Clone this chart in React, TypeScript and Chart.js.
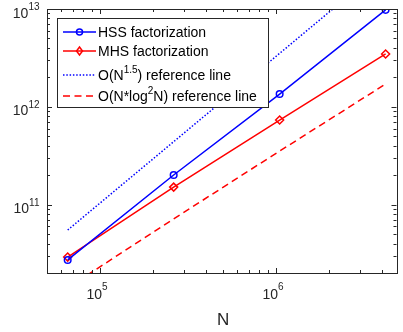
import React, { useEffect, useRef } from "react";
import { Chart, registerables } from "chart.js";

Chart.register(...registerables);

const problemSizes = [65536, 262144, 1048576, 4194304];
const hssValues = [2.72e10, 2.01e11, 1.35e12, 9.8e12];
const mhsValues = [2.91e10, 1.51e11, 7.33e11, 3.47e12];
const refN15Values = [5.5e10, 4.4e11, 3.52e12, 2.82e13];
const refNlog2Values = [1.41e10, 7.15e10, 3.53e11, 1.71e12];

const xMajorTicks = [1e5, 1e6];
const xMajorExponents = ["5", "6"];
const yMajorTicks = [1e11, 1e12, 1e13];
const yMajorExponents = ["11", "12", "13"];

const xLimits = [5e4, 4.9e6];
const yLimits = [2e10, 1e13];

const legendEntries = [
  { base: "HSS factorization", sup: "", rest: "" },
  { base: "MHS factorization", sup: "", rest: "" },
  { base: "O(N", sup: "1.5", rest: ") reference line" },
  { base: "O(N*log", sup: "2", rest: "N) reference line" },
];

const AX = "#262626";
const BLUE = "#0000ff";
const RED = "#ff0000";
const FONT = "Arial, 'Liberation Sans', Helvetica, sans-serif";

function toPts(xs: number[], ys: number[]) {
  return xs.map((x, i) => ({ x, y: ys[i] }));
}

function drawCircle(ctx: CanvasRenderingContext2D, x: number, y: number, r: number, color: string) {
  ctx.beginPath();
  ctx.arc(x, y, r, 0, Math.PI * 2);
  ctx.strokeStyle = color;
  ctx.lineWidth = 1.5;
  ctx.stroke();
}
function drawDiamond(ctx: CanvasRenderingContext2D, x: number, y: number, r: number, color: string) {
  ctx.beginPath();
  ctx.moveTo(x, y - r);
  ctx.lineTo(x + r * 0.75, y);
  ctx.lineTo(x, y + r);
  ctx.lineTo(x - r * 0.75, y);
  ctx.closePath();
  ctx.strokeStyle = color;
  ctx.lineWidth = 1.5;
  ctx.stroke();
}

const axesPlugin = {
  id: "matlabAxes",
  afterDraw(chart: any) {
    const ctx: CanvasRenderingContext2D = chart.ctx;
    const xs = chart.scales.x;
    const ys = chart.scales.y;
    const a = chart.chartArea;
    ctx.save();
    // box
    ctx.strokeStyle = AX;
    ctx.lineWidth = 1;
    ctx.strokeRect(Math.round(a.left) + 0.5, Math.round(a.top) + 0.5, Math.round(a.right - a.left) - 1, Math.round(a.bottom - a.top));
    // x ticks
    const drawXTick = (v: number, len: number) => {
      const px = Math.round(xs.getPixelForValue(v)) + 0.5;
      ctx.beginPath();
      ctx.moveTo(px, a.bottom);
      ctx.lineTo(px, a.bottom - len);
      ctx.moveTo(px, a.top);
      ctx.lineTo(px, a.top + len);
      ctx.stroke();
    };
    const drawYTick = (v: number, len: number) => {
      const py = Math.round(ys.getPixelForValue(v)) + 0.5;
      ctx.beginPath();
      ctx.moveTo(a.left, py);
      ctx.lineTo(a.left + len, py);
      ctx.moveTo(a.right - 1, py);
      ctx.lineTo(a.right - 1 - len, py);
      ctx.stroke();
    };
    for (let d = 4; d <= 6; d++) {
      for (let m = 1; m <= 9; m++) {
        const v = m * Math.pow(10, d);
        if (v < xLimits[0] || v > xLimits[1]) continue;
        drawXTick(v, m === 1 ? 5 : 3);
      }
    }
    for (let d = 10; d <= 13; d++) {
      for (let m = 1; m <= 9; m++) {
        const v = m * Math.pow(10, d);
        if (v < yLimits[0] || v > yLimits[1]) continue;
        drawYTick(v, m === 1 ? 5 : 3);
      }
    }
    // tick labels
    ctx.fillStyle = AX;
    ctx.textBaseline = "alphabetic";
    const baseFont = `14px ${FONT}`;
    const supFont = `10px ${FONT}`;
    xMajorTicks.forEach((v, i) => {
      const px = xs.getPixelForValue(v);
      ctx.font = baseFont;
      const wb = ctx.measureText("10").width;
      ctx.font = supFont;
      const ws = ctx.measureText(xMajorExponents[i]).width;
      const left = px - (wb + ws) / 2 - 3;
      ctx.font = baseFont;
      ctx.textAlign = "left";
      ctx.fillText("10", left, 298.5);
      ctx.font = supFont;
      ctx.fillText(xMajorExponents[i], left + wb, 290);
    });
    yMajorTicks.forEach((v, i) => {
      const py = ys.getPixelForValue(v);
      ctx.font = supFont;
      const ws = ctx.measureText(yMajorExponents[i]).width;
      ctx.font = baseFont;
      const wb = ctx.measureText("10").width;
      const right = 39.5;
      ctx.textAlign = "left";
      ctx.font = baseFont;
      ctx.fillText("10", right - ws - wb, py + 8.5);
      ctx.font = supFont;
      ctx.fillText(yMajorExponents[i], right - ws, py + 1);
    });
    // x title
    ctx.font = `17px ${FONT}`;
    ctx.textAlign = "center";
    ctx.fillText("N", (a.left + a.right) / 2 + 1, 325);

    // legend
    const lx = 57.5, ly = 18.5, lw = 211, lh = 89;
    ctx.fillStyle = "#ffffff";
    ctx.fillRect(lx, ly, lw, lh);
    ctx.strokeStyle = AX;
    ctx.lineWidth = 1;
    ctx.strokeRect(lx, ly, lw, lh);
    const rows = [32, 51, 75, 96];
    const styles = [
      { color: BLUE, dash: [] as number[], marker: "circle" },
      { color: RED, dash: [] as number[], marker: "diamond" },
      { color: BLUE, dash: [1.5, 1.8], marker: "" },
      { color: RED, dash: [7, 4.5], marker: "" },
    ];
    legendEntries.forEach((e, i) => {
      const y = rows[i];
      const s = styles[i];
      ctx.save();
      ctx.strokeStyle = s.color;
      ctx.lineWidth = 1.5;
      ctx.setLineDash(s.dash);
      ctx.beginPath();
      ctx.moveTo(63, y);
      ctx.lineTo(96, y);
      ctx.stroke();
      ctx.restore();
      if (s.marker === "circle") drawCircle(ctx, 79.5, y, 3, s.color);
      if (s.marker === "diamond") drawDiamond(ctx, 79.5, y, 4, s.color);
      ctx.fillStyle = "#000000";
      ctx.textAlign = "left";
      ctx.font = `14px ${FONT}`;
      let tx = 98;
      ctx.fillText(e.base, tx, y + 5);
      tx += ctx.measureText(e.base).width;
      if (e.sup) {
        ctx.font = `10px ${FONT}`;
        ctx.fillText(e.sup, tx, y - 2.5);
        tx += ctx.measureText(e.sup).width;
        ctx.font = `14px ${FONT}`;
        ctx.fillText(e.rest, tx, y + 5);
      }
    });
    ctx.restore();
  },
};

export default function App() {
  const canvasRef = useRef<HTMLCanvasElement | null>(null);
  useEffect(() => {
    const canvas = canvasRef.current;
    if (!canvas) return;
    const chart = new Chart(canvas, {
      type: "line",
      data: {
        datasets: [
          {
            label: "HSS factorization",
            data: toPts(problemSizes, hssValues),
            borderColor: BLUE,
            backgroundColor: "rgba(0,0,0,0)",
            borderWidth: 1.5,
            pointStyle: "circle",
            pointRadius: 3.3,
            pointBorderWidth: 1.5,
            pointBorderColor: BLUE,
            pointBackgroundColor: "rgba(0,0,0,0)",
          },
          {
            label: "MHS factorization",
            data: toPts(problemSizes, mhsValues),
            borderColor: RED,
            backgroundColor: "rgba(0,0,0,0)",
            borderWidth: 1.5,
            pointStyle: "rectRot",
            pointRadius: 4,
            pointBorderWidth: 1.5,
            pointBorderColor: RED,
            pointBackgroundColor: "rgba(0,0,0,0)",
          },
          {
            label: "O(N^1.5) reference line",
            data: toPts(problemSizes, refN15Values),
            borderColor: BLUE,
            borderWidth: 1.5,
            borderDash: [1.5, 1.8],
            pointRadius: 0,
          },
          {
            label: "O(N*log^2N) reference line",
            data: toPts(problemSizes, refNlog2Values),
            borderColor: RED,
            borderWidth: 1.5,
            borderDash: [7, 4.5],
            pointRadius: 0,
          },
        ],
      },
      options: {
        animation: false,
        responsive: false,
        events: [],
        layout: { padding: { left: 47, top: 9, right: 2, bottom: 59 } },
        plugins: { legend: { display: false }, tooltip: { enabled: false } },
        scales: {
          x: { type: "logarithmic", display: false, min: xLimits[0], max: xLimits[1] },
          y: { type: "logarithmic", display: false, min: yLimits[0], max: yLimits[1] },
        },
      },
      plugins: [axesPlugin],
    });
    return () => chart.destroy();
  }, []);
  return (
    <div style={{ position: "fixed", left: 0, top: 0, width: 403, height: 332, background: "#fff" }}>
      <canvas ref={canvasRef} width={403} height={332} style={{ display: "block" }} />
    </div>
  );
}
